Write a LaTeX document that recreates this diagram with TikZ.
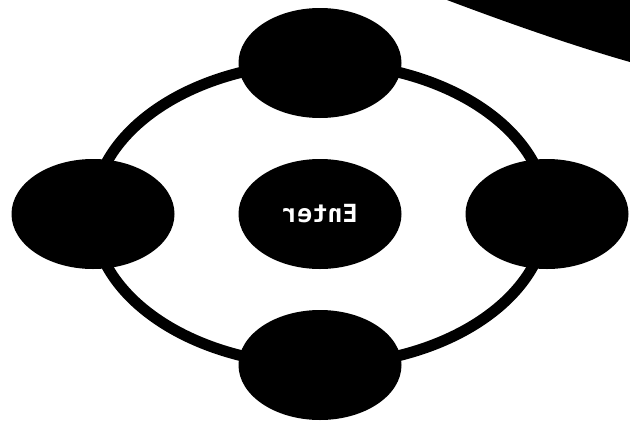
\documentclass[tikz,border=0pt]{standalone}
\usepackage{fontspec}
\setmonofont{DejaVu Sans Mono}
\usetikzlibrary{shapes.geometric}
\begin{document}
\begin{tikzpicture}[x=1pt,y=-1pt,
  blob/.style={ellipse, fill=black, minimum width=163pt, minimum height=110pt, inner sep=0pt},
  ringline/.style={line width=11pt, draw=black},
  lbl/.style={text=white, font=\ttfamily\bfseries\fontsize{25}{25}\selectfont}]
\useasboundingbox (0,0) rectangle (630,421);
\fill[black] (447,0) .. controls (500,20) and (570,45) .. (630,62) -- (630,0) -- cycle;
\coordinate (c) at (320,214);
\draw[ringline] (c) ellipse [x radius=227, y radius=151];
\node[blob, lbl] (center) at (c) {\scalebox{-1}[1]{Enter}};
\node[blob] (top) at (320,63) {};
\node[blob] (bottom) at (320,365) {};
\node[blob] (left) at (93,214) {};
\node[blob] (right) at (547,214) {};
\end{tikzpicture}
\end{document}
